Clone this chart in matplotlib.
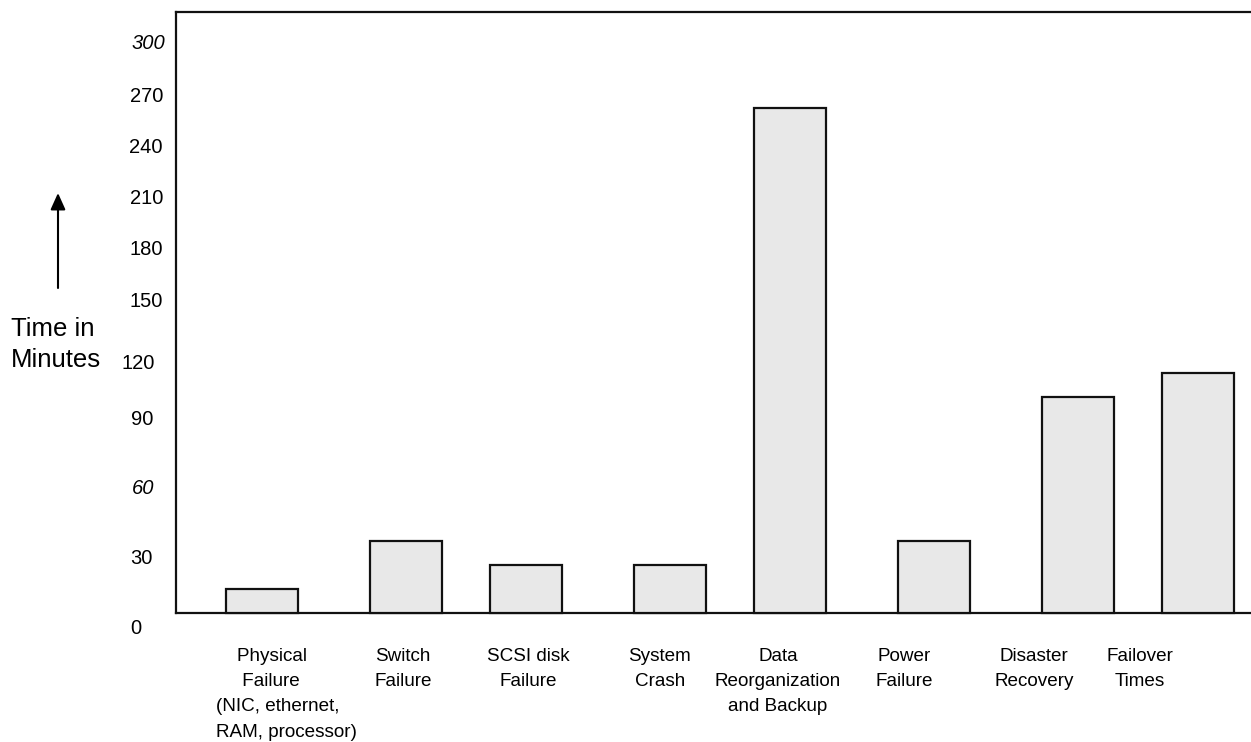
import matplotlib
matplotlib.use('Agg')
import matplotlib.pyplot as plt

plt.rcParams['font.family'] = ['Liberation Sans', 'DejaVu Sans']

# outage categories and downtime (minutes)
categories = ['    Physical\n     Failure\n(NIC, ethernet,\nRAM, processor)',
              'Switch\nFailure', 'SCSI disk\nFailure', 'System\nCrash',
              'Data\nReorganization\nand Backup', 'Power\nFailure',
              'Disaster\nRecovery', 'Failover\nTimes']
minutes = [10, 30, 20, 20, 210, 30, 90, 100]

# hand-placed scale labels on the time axis
scale_labels = ['0', '30', '60', '90', '120', '150', '180', '210', '240',
                '270', '300']
scale_pos = [-5.8, 23.3, 52.5, 81.2, 104.6, 130.4, 152.1, 173.3, 194.6,
             215.8, 237.6]
italic_labels = ['60', '300']

# layout
bar_x = [0, 6, 11, 17, 22, 28, 34, 39]
label_x = [1.03, 5.875, 11.08, 16.58, 21.5, 26.75, 32.17, 36.58]
label_shift_px = [22, 10, 9, 10, 8, 0, 0, 0, 0, 0, -2]

W, H = 1251, 742
fig = plt.figure(figsize=(W / 100, H / 100), dpi=100)
ax = fig.add_axes([176 / W, (H - 632.2) / H, (W - 176) / W, 620.2 / H])

ax.bar(bar_x, minutes, width=3, color='#e8e8e8', edgecolor='#111111',
       linewidth=1.6, zorder=3)

ax.set_xlim(-3.583, 41.208)
ax.set_ylim(-8, 250)

for side in ['left', 'top', 'bottom']:
    ax.spines[side].set_linewidth(1.6)
    ax.spines[side].set_color('#111111')
ax.spines['right'].set_visible(False)
ax.spines['bottom'].set_position(('data', 0))
ax.spines['left'].set_bounds(0, 250)

ax.set_xticks(label_x, categories)
ax.tick_params(axis='x', length=0, pad=25, labelsize=13.6)
for lbl in ax.get_xticklabels():
    lbl.set_linespacing(1.64)
ax.get_xticklabels()[0].set_multialignment('left')

ax.set_yticks(scale_pos, scale_labels)
ax.tick_params(axis='y', length=0, pad=9.4, labelsize=14.5)
for lbl, shift in zip(ax.get_yticklabels(), label_shift_px):
    lbl.set_x(-shift / (W - 176))
    if lbl.get_text() in italic_labels:
        lbl.set_style('italic')

# axis caption with upward arrow
fig.text(11 / W, 1 - 344.5 / H, 'Time in\nMinutes', ha='left', va='center',
         fontsize=18.5, linespacing=1.35)
ax.annotate('', xy=(58 / W, 1 - 193 / H), xytext=(58 / W, 1 - 288 / H),
            xycoords='figure fraction', textcoords='figure fraction',
            arrowprops=dict(arrowstyle='-|>,head_length=1.0,head_width=0.45',
                            color='black', lw=1.5, shrinkA=0, shrinkB=0))

fig.savefig('out.png', dpi=100)
